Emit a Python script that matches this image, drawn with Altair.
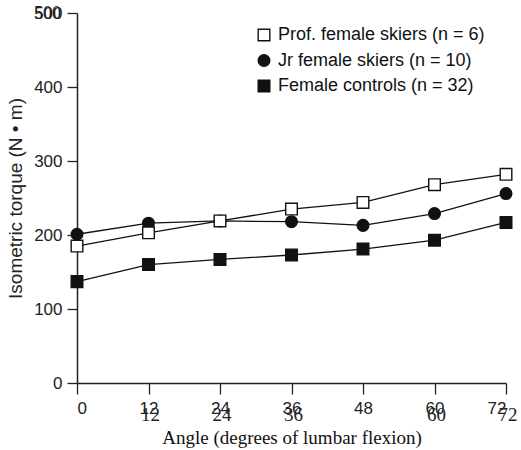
import altair as alt
import pandas as pd

angles = [0, 12, 24, 36, 48, 60, 72]
series_names = ["Prof. female skiers (n = 6)", "Jr female skiers (n = 10)", "Female controls (n = 32)"]
prof = [185, 203, 219, 235, 244, 268, 282]
jr = [201, 216, 219, 218, 213, 229, 256]
controls = [137, 160, 167, 173, 181, 193, 217]

serif_x_labels = [12, 24, 36, 60, 72]
serif_y_labels = [500]

rows = []
for name, vals, order in zip(series_names, [prof, jr, controls], [2, 1, 0]):
    for a, v in zip(angles, vals):
        rows.append({"angle": a, "torque": v, "series": name, "order": order})
df = pd.DataFrame(rows)

W, H = 429, 370
sans = "Liberation Sans"
serif = "Liberation Serif"

x_scale = alt.Scale(domain=[0, 72], nice=False, zero=False)
y_scale = alt.Scale(domain=[0, 500], nice=False)

x_enc = alt.X("angle:Q", scale=x_scale,
              axis=alt.Axis(values=angles, title="Angle (degrees of lumbar flexion)",
                            titleFont=serif, titleFontSize=19, titleFontWeight="normal",
                            titlePadding=12, titleColor="#111",
                            labelFont=sans, labelFontSize=17, labelColor="#222",
                            labelPadding=6, tickSize=11, tickColor="#222",
                            domainColor="#222", domainWidth=1.5, tickWidth=1.3, grid=False))
y_enc = alt.Y("torque:Q", scale=y_scale,
              axis=alt.Axis(values=[0, 100, 200, 300, 400, 500], title="Isometric torque (N \u2022 m)",
                            titleFont=sans, titleFontSize=19, titleFontWeight="normal",
                            titlePadding=8, titleColor="#222",
                            labelFont=sans, labelFontSize=17, labelColor="#222",
                            labelPadding=5, tickSize=10, tickColor="#222",
                            domainColor="#222", domainWidth=1.5, tickWidth=1.3, grid=False))

lines = alt.Chart(df).mark_line(color="#111", strokeWidth=1.3).encode(
    x=x_enc, y=y_enc, detail="series:N", order="angle:Q")

legend_cfg = dict(title=None, orient="none", legendX=178, legendY=13,
                  labelFont=sans, labelFontSize=18, labelColor="#111",
                  symbolSize=135, rowPadding=7.5, labelOffset=5,
                  symbolStrokeColor="#111", symbolStrokeWidth=1.4,
                  padding=0, labelLimit=400)

points = alt.Chart(df).mark_point(size=135, strokeWidth=1.4, opacity=1, filled=False).encode(
    x=alt.X("angle:Q", scale=x_scale),
    y=alt.Y("torque:Q", scale=y_scale),
    shape=alt.Shape("series:N", sort=series_names,
                    scale=alt.Scale(domain=series_names, range=["square", "circle", "square"]),
                    legend=alt.Legend(**legend_cfg)),
    fill=alt.Fill("series:N", sort=series_names,
                  scale=alt.Scale(domain=series_names, range=["white", "#111", "#111"]),
                  legend=alt.Legend(**legend_cfg)),
    stroke=alt.Stroke("series:N", sort=series_names,
                      scale=alt.Scale(domain=series_names, range=["#111", "#111", "#111"]),
                      legend=alt.Legend(**legend_cfg)),
    order=alt.Order("order:Q"),
)

xlab_df = pd.DataFrame({"angle": serif_x_labels, "lab": [str(v) for v in serif_x_labels]})
serif_x = alt.Chart(xlab_df).mark_text(font=serif, fontSize=19, color="#222", baseline="middle", dx=2).encode(
    x=alt.X("angle:Q", scale=x_scale), y=alt.value(H + 32), text="lab:N")

ylab_df = pd.DataFrame({"torque": serif_y_labels, "lab": [str(v) for v in serif_y_labels]})
serif_y = alt.Chart(ylab_df).mark_text(font=serif, fontSize=18, color="#222", align="right", baseline="middle", dx=-16, dy=1).encode(
    y=alt.Y("torque:Q", scale=y_scale), x=alt.value(0), text="lab:N")

chart = alt.layer(lines, points, serif_x, serif_y).properties(
    width=W, height=H,
    autosize=alt.AutoSizeParams(type="none"),
    padding={"left": 77, "top": 13, "right": 15, "bottom": 67},
    background="white",
).configure_view(stroke=None)

chart.save("out.html", embed_options={"renderer": "svg", "actions": False})
